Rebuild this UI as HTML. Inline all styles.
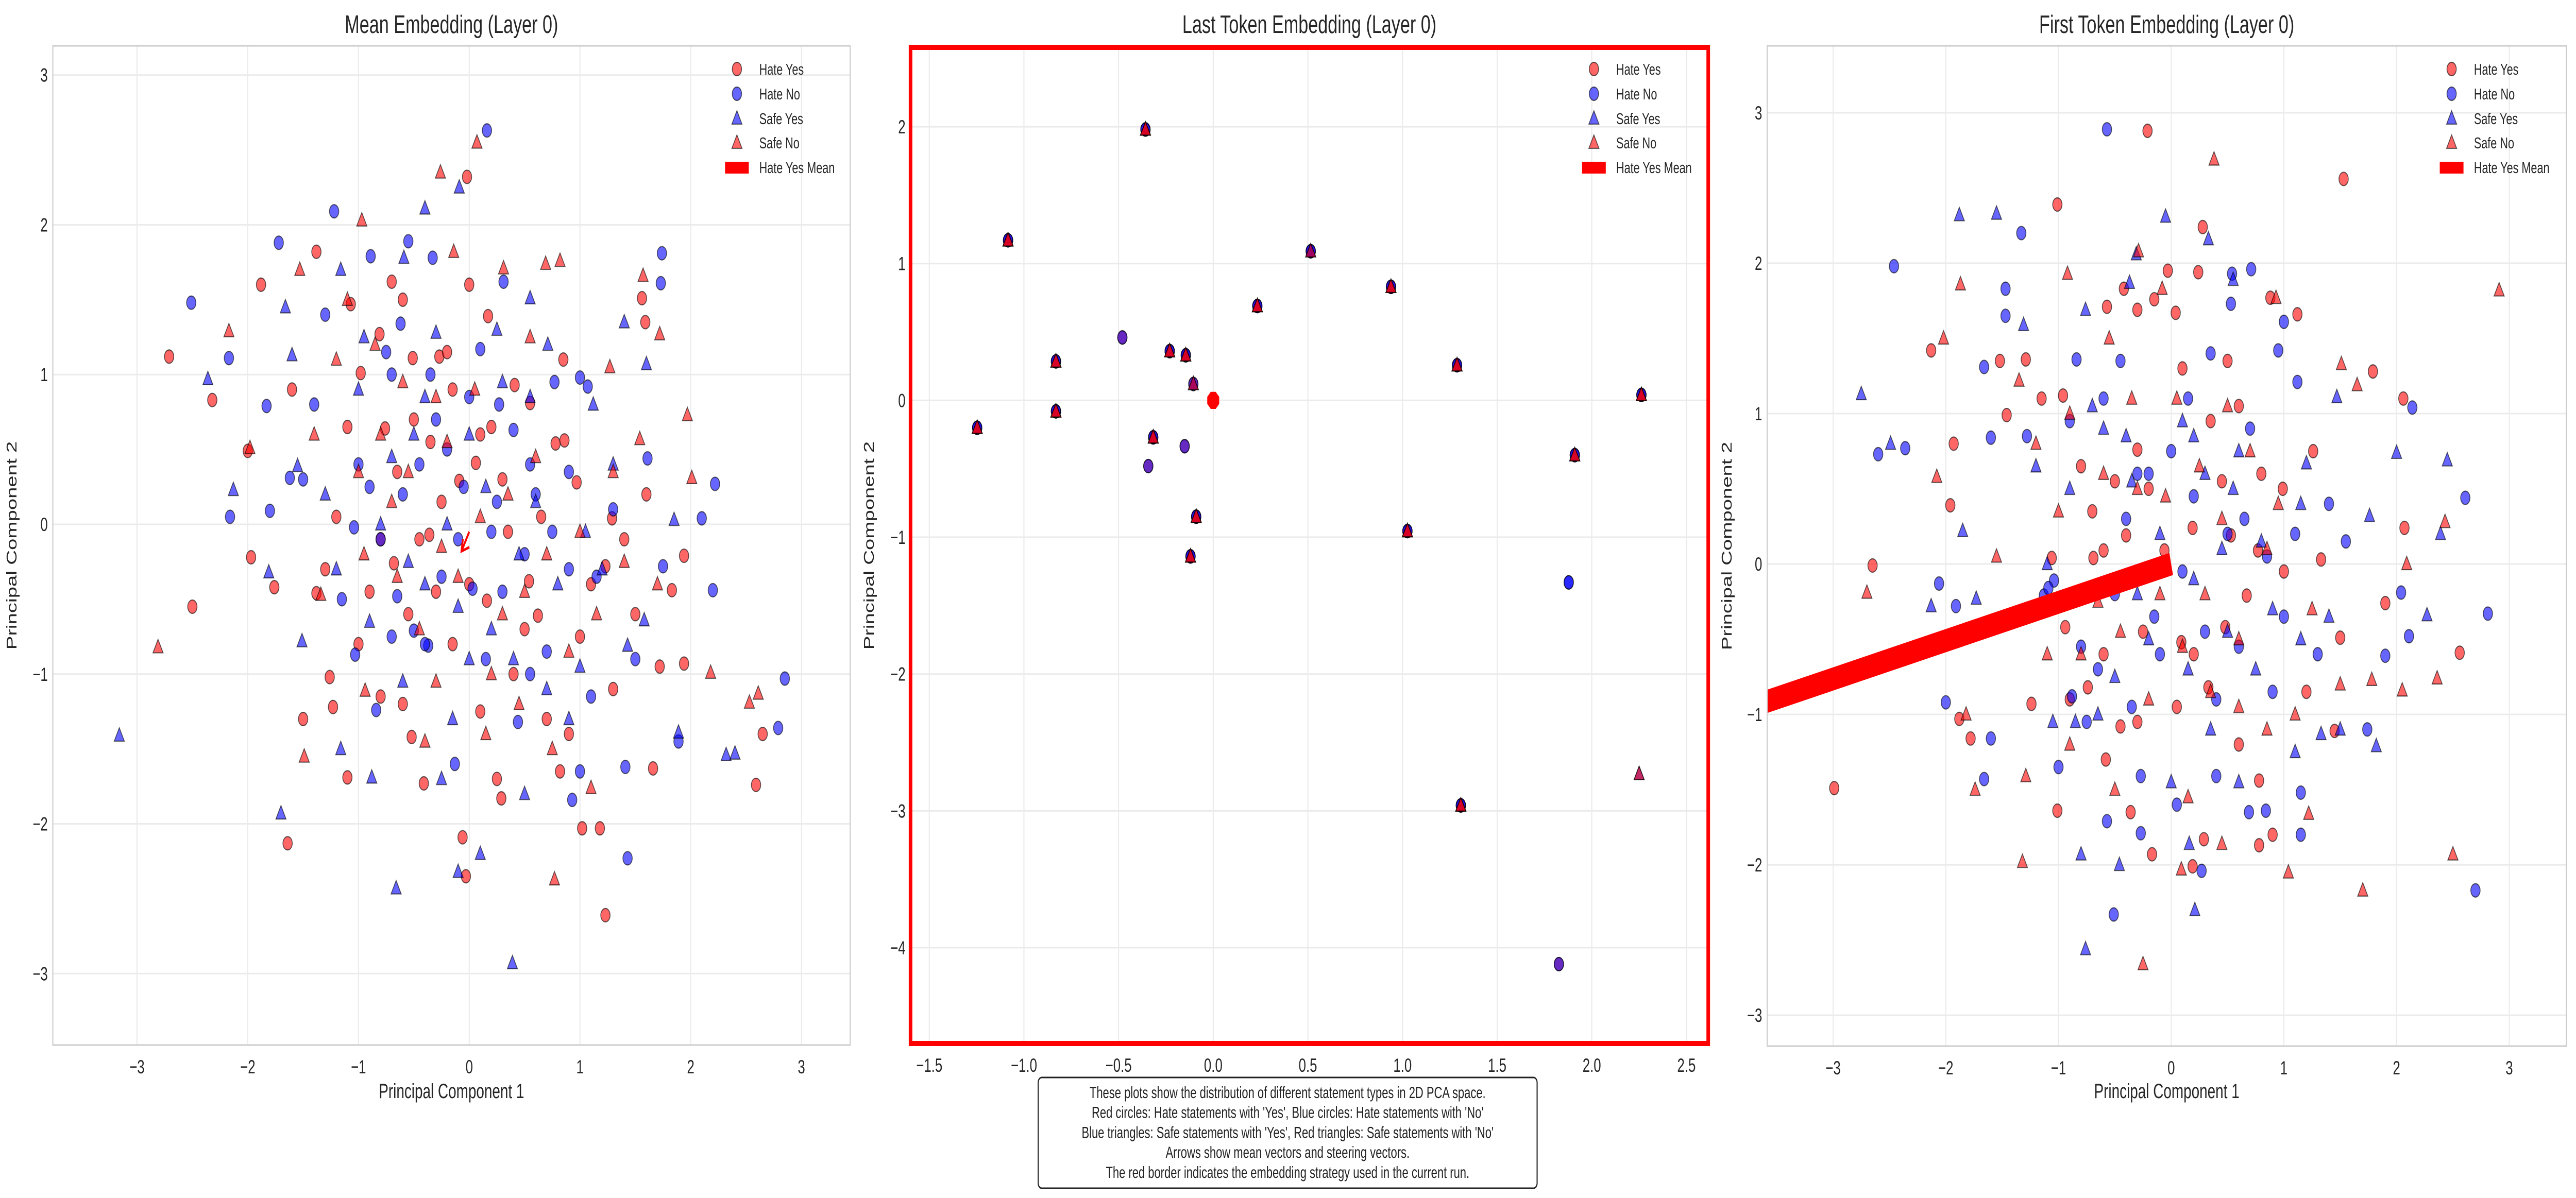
<!DOCTYPE html>
<html><head><meta charset="utf-8">
<style>
html,body{margin:0;padding:0;background:#fff;width:100%;height:100%;overflow:hidden;}
svg{display:block;font-family:"Liberation Sans",Arial,sans-serif;width:100vw;height:100vh;}
</style></head>
<body>
<svg id="fig" xmlns="http://www.w3.org/2000/svg" viewBox="0 0 7166 2326" preserveAspectRatio="none">
<rect x="0" y="0" width="7166" height="2326" fill="#fff"/>
</svg>
<script>
// ---------- data ----------
const xTicks1 = [-3,-2,-1,0,1,2,3];
const yTicks1 = [-3,-2,-1,0,1,2,3];
const xTicks2 = [-1.5,-1.0,-0.5,0.0,0.5,1.0,1.5,2.0,2.5];
const yTicks2 = [-4,-3,-2,-1,0,1,2];
const xTicks3 = [-3,-2,-1,0,1,2,3];
const yTicks3 = [-3,-2,-1,0,1,2,3];
const legendLabels = ["Hate Yes","Hate No","Safe Yes","Safe No","Hate Yes Mean"];

const p1HateYes = [[-2.71,1.12],[-2.32,0.83],[-2.50,-0.55],[-1.88,1.60],[-1.97,-0.22],[-2.00,0.49],[-1.76,-0.42],[-1.64,-2.13],[-1.38,1.82],[-1.38,-0.46],[-1.26,-1.02],[-1.23,-1.22],[-1.10,-1.69],[-1.07,1.47],[-0.98,1.01],[-0.81,1.27],[-0.70,1.62],[-0.68,-0.26],[-0.51,1.11],[-0.52,-1.42],[-0.41,-1.73],[-0.36,-0.07],[-0.27,1.12],[-0.15,0.90],[-0.06,-2.09],[-0.02,2.32],[-0.03,-2.35],[-0.09,0.29],[0.06,0.41],[0.17,1.39],[0.16,-0.51],[0.29,-1.83],[0.41,0.93],[0.55,0.81],[0.62,-0.61],[0.78,0.54],[0.86,0.56],[0.82,-1.65],[0.97,0.28],[1.02,-2.03],[1.18,-2.03],[1.23,-2.61],[1.29,0.04],[1.56,1.51],[1.59,1.35],[1.66,-1.63],[1.72,-0.95],[1.83,-0.44],[1.94,-0.21],[1.94,-0.93],[2.65,-1.40],[2.59,-1.74],[1.23,-0.28],[0.54,-0.38],[-0.76,0.64],[-0.5,0.7],[-0.3,-0.45],[0.1,0.6],[0.35,-0.05],[-0.6,-1.2],[0.7,-1.3],[1.4,-0.1],[-1.2,0.05],[0.0,-0.4],[0.5,-0.7],[-0.9,-0.45],[1.1,-0.4],[-0.2,1.15],[0.2,0.65],[-0.45,-0.1],[1.5,-0.6],[0.9,-1.4],[-1.3,-0.3],[-0.8,-1.15],[0.25,-1.7],[-1.6,0.9],[-1.1,0.65],[-0.65,0.35],[-0.25,0.15],[0.3,0.3],[0.65,0.05],[1.0,-0.75],[0.4,-1.0],[-0.15,-0.8],[-0.55,-0.6],[-1.0,-0.8],[-1.5,-1.3],[1.3,-1.1],[0.1,-1.25],[-0.35,0.55],[0.85,1.1],[1.6,0.2],[-0.8,-0.1],[0.0,1.6],[-0.6,1.5]];
const p1HateNo = [[-2.51,1.48],[-2.17,1.11],[-2.16,0.05],[-1.80,0.09],[-1.83,0.79],[-1.72,1.88],[-1.62,0.31],[-1.22,2.09],[-1.04,-0.02],[-0.89,1.79],[-0.55,1.89],[-0.33,1.78],[0.16,2.63],[-0.35,1.00],[-0.70,1.00],[-0.62,1.34],[-1.03,-0.87],[-0.84,-1.24],[-0.65,-0.48],[-0.50,-0.71],[-0.37,-0.81],[-0.13,-1.60],[0.03,-0.43],[0.27,0.80],[0.31,1.62],[0.77,0.95],[1.00,0.98],[1.07,0.92],[0.93,-1.84],[1.00,-1.65],[1.41,-1.62],[1.43,-2.23],[1.74,1.81],[1.73,1.61],[1.61,0.44],[1.75,-0.28],[1.89,-1.45],[2.10,0.04],[2.22,0.27],[2.79,-1.36],[2.85,-1.03],[2.20,-0.44],[0.44,-1.32],[-1.0,0.4],[-0.6,0.2],[-0.3,0.7],[0.1,1.17],[0.4,0.63],[0.6,0.2],[0.2,-0.05],[-0.1,-0.1],[0.5,-0.2],[0.9,-0.3],[1.3,0.1],[-0.8,-0.1],[-1.5,0.3],[0.7,-0.85],[0.3,-0.45],[-0.2,0.5],[1.1,-1.15],[-0.4,-0.8],[0.55,0.4],[-0.9,0.25],[-1.3,1.4],[-0.75,1.15],[-0.45,0.4],[0.0,0.85],[0.25,0.15],[0.75,-0.05],[1.15,-0.35],[0.15,-0.9],[-0.25,-0.35],[-0.7,-0.75],[-1.15,-0.5],[0.55,-1.0],[1.5,-0.9],[0.9,0.35],[-0.05,0.25],[-1.4,0.8]];
const p1SafeYes = [[-3.16,-1.41],[-2.36,0.97],[-2.13,0.23],[-1.81,-0.32],[-1.70,-1.93],[-1.66,1.45],[-1.51,-0.78],[-1.60,1.13],[-1.55,0.39],[-1.16,1.70],[-1.16,-1.50],[-0.88,-1.69],[-0.66,-2.43],[-0.59,1.78],[-0.40,2.11],[-0.09,2.25],[0.39,-2.93],[0.10,-2.20],[-0.10,-2.32],[1.40,1.35],[1.60,1.07],[1.89,-1.39],[2.32,-1.54],[2.40,-1.53],[1.85,0.03],[1.58,-0.64],[1.12,0.80],[0.71,1.20],[0.55,1.51],[1.43,-0.81],[-1.0,0.9],[-0.5,0.6],[-0.2,0.0],[0.0,0.6],[0.3,0.95],[0.6,0.15],[0.8,-0.4],[0.4,-0.9],[0.0,-0.9],[-0.4,-0.4],[-0.8,0.0],[-1.2,-0.3],[0.9,-1.3],[1.2,-0.3],[0.2,-0.7],[-0.3,1.28],[-0.6,-1.05],[0.5,-1.8],[-0.15,-1.3],[1.05,-0.05],[-1.3,0.2],[-0.95,1.25],[-0.7,0.45],[-0.4,0.85],[-0.1,-0.55],[0.15,0.25],[0.45,-0.2],[0.7,-1.1],[1.0,-0.95],[-0.55,-0.25],[-0.9,-0.65],[0.25,1.3],[1.3,0.4],[-0.25,-1.7],[0.55,0.85]];
const p1SafeNo = [[-2.81,-0.82],[-2.17,1.29],[-1.98,0.51],[-1.53,1.70],[-1.49,-1.55],[-1.34,-0.47],[-0.97,2.03],[-0.94,-1.11],[-0.26,2.35],[0.07,2.55],[0.31,1.71],[0.77,-2.37],[0.82,1.76],[1.10,-1.76],[1.27,1.05],[1.57,1.66],[1.72,1.27],[1.97,0.73],[2.18,-0.99],[2.53,-1.19],[2.61,-1.13],[2.01,0.31],[1.54,0.57],[0.69,1.74],[-0.14,1.82],[-1.2,1.1],[-0.8,0.6],[-0.55,0.35],[-0.3,0.85],[0.1,0.05],[0.35,0.2],[0.7,-0.2],[0.9,-0.85],[0.5,-0.45],[-0.1,-0.35],[-0.45,-0.7],[-0.95,-0.2],[-1.4,0.6],[0.2,-1.0],[-0.3,-1.05],[0.75,-1.5],[1.3,0.35],[1.4,-0.25],[-0.7,0.15],[0.55,1.25],[-1.1,1.5],[-0.6,0.95],[-0.2,0.55],[0.05,0.9],[0.3,-0.6],[0.6,0.45],[1.0,-0.05],[1.15,-0.6],[-0.25,-0.15],[-0.65,-0.35],[-1.0,0.35],[-0.4,-1.45],[0.15,-1.4],[0.45,-1.2],[-0.85,1.2],[1.7,-0.4]];
const p1Arrow = [[0.0,-0.05],[-0.07,-0.18]];

const p2Cluster = [[-1.247,-0.20],[-1.084,1.17],[-0.831,0.285],[-0.831,-0.08],[-0.358,1.98],[-0.23,0.36],[-0.145,0.33],[-0.317,-0.27],[-0.09,-0.85],[-0.12,-1.14],[0.233,0.69],[0.939,0.83],[1.026,-0.955],[1.288,0.257],[1.308,-2.96],[1.91,-0.40],[2.262,0.04]];
const p2HateYes = [[-0.48,0.46],[-0.343,-0.48],[-0.151,-0.335],[1.826,-4.12],[-0.105,0.12],[0.515,1.09]];
const p2HateNo = [[-0.48,0.46],[-0.343,-0.48],[-0.151,-0.335],[1.826,-4.12],[1.878,-1.33],[1.878,-1.33],[-0.105,0.12],[0.515,1.09],[0.515,1.09]];
const p2SafeYes = [[2.25,-2.73],[-0.105,0.12],[0.515,1.09]];
const p2SafeNo = [[2.25,-2.73],[-0.105,0.12],[0.515,1.09]];
const p2Mean = [0,0];

const p3HateYes = [[-2.99,-1.49],[-2.65,-0.01],[-2.13,1.42],[-1.96,0.39],[-1.93,0.80],[-1.88,-1.03],[-1.78,-1.16],[-1.52,1.35],[-1.46,0.99],[-1.29,1.36],[-1.01,2.39],[-1.01,-1.64],[-1.24,-0.93],[-0.96,1.12],[-0.57,1.71],[-0.42,1.83],[-0.30,1.69],[-0.21,2.88],[-0.15,1.76],[-0.03,1.95],[0.04,1.67],[0.24,1.94],[0.28,2.24],[0.50,1.35],[0.88,1.77],[1.12,1.66],[1.53,2.56],[1.79,1.28],[2.06,1.10],[2.07,0.24],[1.90,-0.26],[2.56,-0.59],[1.50,-0.49],[1.45,-1.11],[0.78,-1.44],[0.90,-1.80],[0.78,-1.87],[0.29,-1.83],[0.19,-2.01],[-0.17,-1.93],[-0.36,-1.65],[-0.58,-1.30],[-0.74,-0.82],[-0.94,-0.42],[-1.06,0.04],[-0.69,0.04],[-0.60,0.09],[-0.40,0.19],[-0.30,0.76],[-0.06,0.09],[0.19,0.24],[0.48,-0.42],[0.67,-0.21],[0.77,0.09],[0.99,0.50],[1.26,0.75],[1.33,0.03],[0.53,0.19],[0.33,-0.82],[0.09,-0.52],[-0.45,-1.08],[-1.15,1.1],[-0.8,0.65],[-0.5,0.55],[-0.2,0.5],[0.1,1.3],[0.35,0.95],[0.6,1.05],[0.8,0.6],[1.0,-0.05],[0.2,-0.6],[-0.25,-0.45],[-0.6,-0.6],[-0.9,-0.9],[-0.3,-1.05],[0.6,-1.2],[1.2,-0.85],[0.45,0.55],[-0.7,0.35],[0.05,-0.95]];
const p3HateNo = [[-2.46,1.98],[-2.60,0.73],[-2.36,0.77],[-2.00,-0.92],[-2.06,-0.13],[-1.91,-0.28],[-1.66,1.31],[-1.60,0.84],[-1.47,1.83],[-1.47,1.65],[-1.33,2.20],[-1.28,0.85],[-1.66,-1.43],[-1.60,-1.16],[-1.00,-1.35],[-0.88,-0.88],[-0.84,1.36],[-0.57,2.89],[-0.57,-1.71],[-0.51,-2.33],[-0.27,-1.79],[-0.27,-1.41],[0.27,-2.04],[0.53,1.73],[0.71,1.96],[0.54,1.93],[1.00,1.61],[0.95,1.42],[1.12,1.21],[2.14,1.04],[2.61,0.44],[2.81,-0.33],[2.70,-2.17],[2.11,-0.48],[2.04,-0.19],[1.74,-1.10],[1.90,-0.61],[1.15,-1.80],[1.15,-1.52],[0.84,-1.64],[0.69,-1.65],[0.40,-1.41],[0.05,-1.60],[-1.13,-0.21],[-1.04,-0.11],[-1.09,-0.16],[-0.4,0.3],[-0.2,0.6],[0.0,0.75],[0.2,0.45],[0.5,0.2],[0.7,0.9],[0.3,-0.45],[0.1,-0.05],[-0.15,-0.35],[-0.5,-0.2],[-0.8,-0.55],[1.1,0.2],[1.4,0.4],[1.55,0.15],[0.6,-0.55],[-0.3,0.6],[-0.1,-0.6],[-0.45,1.35],[0.15,1.1],[0.85,0.05],[-0.65,-0.7],[1.0,-0.35],[-0.9,0.95],[-0.6,1.1],[0.35,1.4],[0.65,0.3],[0.9,-0.85],[0.4,-0.9],[-0.35,-0.95],[-0.75,-1.05],[1.3,-0.6]];
const p3SafeYes = [[-2.75,1.13],[-2.49,0.80],[-1.88,2.32],[-1.55,2.33],[-1.31,1.59],[-2.13,-0.28],[-1.85,0.22],[-1.73,-0.23],[-0.76,1.69],[-0.31,2.06],[-0.05,2.31],[0.33,2.16],[-0.76,-2.56],[-0.80,-1.93],[-0.46,-2.00],[0.21,-2.30],[0.16,-1.86],[2.00,0.74],[2.45,0.69],[2.39,0.20],[2.27,-0.34],[1.82,-1.21],[1.50,-1.10],[1.33,-1.13],[1.76,0.32],[1.47,1.11],[1.20,0.67],[0.55,1.89],[-0.37,1.87],[-1.1,0.0],[-0.9,0.5],[-0.6,0.9],[-0.35,0.55],[-0.1,0.2],[0.1,0.95],[0.3,0.6],[0.55,0.5],[0.8,0.15],[0.5,-0.45],[0.2,-0.1],[-0.2,-0.5],[-0.5,-0.75],[-0.85,-1.05],[0.0,-1.45],[0.75,-0.7],[1.15,-0.5],[-1.05,-1.05],[0.35,-1.1],[1.4,-0.35],[-1.2,0.65],[-0.7,1.05],[-0.4,0.85],[0.2,0.85],[0.6,0.75],[0.45,0.1],[0.9,-0.3],[0.15,-0.7],[-0.3,-0.2],[-0.65,-1.0],[0.6,-1.45],[1.1,-1.25],[1.15,0.4]];
const p3SafeNo = [[-2.70,-0.19],[-2.08,0.58],[-2.02,1.50],[-1.87,1.86],[-1.82,-1.00],[-1.74,-1.50],[-1.32,-1.98],[-1.29,-1.41],[-1.35,1.22],[-0.92,1.93],[-0.29,2.08],[-0.08,1.83],[0.38,2.69],[-0.25,-2.66],[1.04,-2.05],[1.70,-2.17],[2.50,-1.93],[2.91,1.82],[2.43,0.28],[2.36,-0.76],[2.05,-0.84],[2.09,0.00],[1.78,-0.77],[1.51,1.33],[1.65,1.19],[0.93,1.77],[0.45,-1.86],[1.22,-1.66],[0.09,-2.03],[-1.2,0.8],[-0.9,1.0],[-0.55,1.5],[-0.3,0.5],[-0.05,0.45],[0.25,0.65],[0.45,0.3],[0.7,0.75],[0.95,0.4],[0.6,-0.5],[0.3,-0.2],[-0.1,-0.2],[-0.45,-0.45],[-0.8,-0.6],[-1.1,-0.6],[-0.5,-1.5],[0.15,-1.55],[0.6,-0.95],[1.1,-1.0],[0.1,-0.55],[-1.55,0.05],[-1.0,0.35],[-0.6,0.6],[-0.35,1.1],[0.05,1.1],[0.5,1.05],[0.85,0.1],[1.25,-0.3],[0.35,-0.85],[-0.2,-0.9],[-0.65,-0.25],[-0.9,-1.2],[0.85,-1.1],[1.5,-0.8]];
const p3Arrow = [[0,0],[-4.2,-1.07]];

// ---------- rendering ----------
const NS = "http://www.w3.org/2000/svg";
const svg = document.getElementById("fig");
function mk(tag, attrs, parent){
  const e = document.createElementNS(NS, tag);
  for (const k in attrs) e.setAttribute(k, attrs[k]);
  (parent || svg).appendChild(e);
  return e;
}
const TXT = "#262626";
const RED = "rgba(255,0,0,0.6)", BLUE = "rgba(0,0,255,0.6)";
const EDGE = "rgba(0,0,0,0.6)";

function panel(id, box, xlim, ylim, xt, yt, xfmt, title, ylabX, legX){
  const g = mk("g", {});
  
  
  const sx = v => box.x + (v - xlim[0]) / (xlim[1] - xlim[0]) * box.w;
  const sy = v => box.y + (ylim[1] - v) / (ylim[1] - ylim[0]) * box.h;
  const cp = mk("clipPath", {id: id + "-clip"}, g);
  mk("rect", {x: box.x, y: box.y, width: box.w, height: box.h}, cp);
  xt.forEach(v => {
    const l = mk("line", {x1: sx(v), x2: sx(v), y1: box.y, y2: box.y + box.h, stroke: "#ebebeb", "stroke-width": 3}, g);
    
    
    const t = mk("text", {x: sx(v), y: box.y + box.h + 55, "text-anchor": "middle", "font-size": 37, fill: TXT}, g);
    t.textContent = xfmt(v);
    
    
  });
  yt.forEach(v => {
    const l = mk("line", {x1: box.x, x2: box.x + box.w, y1: sy(v), y2: sy(v), stroke: "#ebebeb", "stroke-width": 3}, g);
    
    
    const t = mk("text", {x: box.x - 14, y: sy(v) + 13, "text-anchor": "end", "font-size": 37, fill: TXT}, g);
    t.textContent = String(v).replace("-", "\u2212");
    
    
  });
  const tt = mk("text", {x: box.x + box.w / 2, y: 64, "text-anchor": "middle", "font-size": 49, fill: TXT}, g);
  tt.textContent = title;
  
  
  const xl = mk("text", {x: box.x + box.w / 2, y: 2132, "text-anchor": "middle", "font-size": 40, fill: TXT}, g);
  xl.textContent = "Principal Component 1";
  
  
  const cy = box.y + box.h / 2;
  const yl = mk("text", {x: ylabX, y: cy, "text-anchor": "middle", "font-size": 40, fill: TXT, transform: `rotate(-90 ${ylabX} ${cy})`}, g);
  yl.textContent = "Principal Component 2";
  
  
  const plot = mk("g", {"clip-path": `url(#${id}-clip)`}, g);
  return {g, plot, sx, sy, box, legX};
}
function circles(P, data, fill, name){
  data.forEach(d => {
    const c = mk("circle", {cx: P.sx(d[0]), cy: P.sy(d[1]), r: 13, fill: fill, stroke: EDGE, "stroke-width": 2.2}, P.plot);
    
    
  });
}
function tris(P, data, fill, name){
  data.forEach(d => {
    const x = P.sx(d[0]), y = P.sy(d[1]);
    const t = mk("polygon", {points: `${x},${y-15} ${x-14},${y+11} ${x+14},${y+11}`, fill: fill, stroke: EDGE, "stroke-width": 2.2}, P.plot);
    
    
  });
}
function spines(P, color, w){
  const b = P.box;
  const r = mk("rect", {x: b.x, y: b.y, width: b.w, height: b.h, fill: "none", stroke: color, "stroke-width": w}, P.g);
  
  
}
function legend(P){
  const x = P.legX, rows = [134, 182, 230, 277, 325];
  const lg = mk("g", {}, P.g);
  
  
  legendLabels.forEach((lab, i) => {
    const y = rows[i];
    let m;
    if (i < 2) m = mk("circle", {cx: x, cy: y, r: 13, fill: i === 0 ? RED : BLUE, stroke: EDGE, "stroke-width": 2.2}, lg);
    else if (i < 4) m = mk("polygon", {points: `${x},${y-15} ${x-14},${y+11} ${x+14},${y+11}`, fill: i === 2 ? BLUE : RED, stroke: EDGE, "stroke-width": 2.2}, lg);
    else m = mk("rect", {x: x - 33, y: y - 11, width: 66, height: 23, fill: "#ff0000"}, lg);
    
    
    const t = mk("text", {x: x + 62, y: y + 11, "font-size": 31, fill: TXT}, lg);
    t.textContent = lab;
    
    
  });
}
const intFmt = v => String(v).replace("-", "\u2212");
const decFmt = v => v.toFixed(1).replace("-", "\u2212");

// Panel 1
const P1 = panel("mean", {x:147, y:89, w:2218, h:1940}, [-3.76,3.44], [-3.477,3.195], xTicks1, yTicks1, intFmt, "Mean Embedding (Layer 0)", 46, 2050);
circles(P1, p1HateYes, RED, "hate-yes-point");
circles(P1, p1HateNo, BLUE, "hate-no-point");
tris(P1, p1SafeYes, BLUE, "safe-yes-point");
tris(P1, p1SafeNo, RED, "safe-no-point");
(function(){
  const a = p1Arrow, x1 = P1.sx(a[0][0]), y1 = P1.sy(a[0][1]), x2 = P1.sx(a[1][0]), y2 = P1.sy(a[1][1]);
  const ar = mk("g", {}, P1.plot);
  
  
  mk("line", {x1:x1, y1:y1, x2:x2, y2:y2, stroke:"#ff0000", "stroke-width":5}, ar);
  mk("polyline", {points:`${x2+22},${y2-8} ${x2},${y2} ${x2+4},${y2-24}`, fill:"none", stroke:"#ff0000", "stroke-width":5}, ar);
})();
spines(P1, "#cccccc", 3);
legend(P1);

// Panel 2
const P2 = panel("last", {x:2533, y:92, w:2219, h:1934}, [-1.599,2.615], [-4.70,2.58], xTicks2, yTicks2, decFmt, "Last Token Embedding (Layer 0)", 2431, 4434);
circles(P2, p2Cluster, RED, "hate-yes-point");
circles(P2, p2HateYes, RED, "hate-yes-point");
circles(P2, p2Cluster, BLUE, "hate-no-point");
circles(P2, p2Cluster, BLUE, "hate-no-point");
circles(P2, p2HateNo, BLUE, "hate-no-point");
tris(P2, p2Cluster, BLUE, "safe-yes-point");
tris(P2, p2SafeYes, BLUE, "safe-yes-point");
tris(P2, p2Cluster, RED, "safe-no-point");
tris(P2, p2Cluster, RED, "safe-no-point");
tris(P2, p2SafeNo, RED, "safe-no-point");
(function(){
  const cx = P2.sx(p2Mean[0]), cy = P2.sy(p2Mean[1]), r = 18, pts = [];
  for (let i = 0; i < 8; i++){ const a = Math.PI/8 + i*Math.PI/4; pts.push((cx + r*Math.cos(a)) + "," + (cy + r*Math.sin(a))); }
  const o = mk("polygon", {points: pts.join(" "), fill: "#ff0000"}, P2.plot);
  
  
})();
spines(P2, "#ff0000", 10);
legend(P2);

// Panel 3
const P3 = panel("first", {x:4916, y:89, w:2223, h:1942}, [-3.585,3.506], [-3.205,3.445], xTicks3, yTicks3, intFmt, "First Token Embedding (Layer 0)", 4817, 6820);
circles(P3, p3HateYes, RED, "hate-yes-point");
circles(P3, p3HateNo, BLUE, "hate-no-point");
tris(P3, p3SafeYes, BLUE, "safe-yes-point");
tris(P3, p3SafeNo, RED, "safe-no-point");
(function(){
  const a = p3Arrow;
  const l = mk("line", {x1:P3.sx(a[0][0]), y1:P3.sy(a[0][1]), x2:P3.sx(a[1][0]), y2:P3.sy(a[1][1]), stroke:"#ff0000", "stroke-width":44}, P3.plot);
  
  
})();
spines(P3, "#cccccc", 3);
legend(P3);

// Caption box
(function(){
  const g = mk("g", {});
  
  
  mk("rect", {x:2888, y:2092, width:1388, height:215, rx:10, fill:"#fff", stroke:"#222", "stroke-width":3}, g);
  const lines = ["These plots show the distribution of different statement types in 2D PCA space.",
    "Red circles: Hate statements with 'Yes', Blue circles: Hate statements with 'No'",
    "Blue triangles: Safe statements with 'Yes', Red triangles: Safe statements with 'No'",
    "Arrows show mean vectors and steering vectors.",
    "The red border indicates the embedding strategy used in the current run."];
  lines.forEach((s, i) => {
    const t = mk("text", {x:3582, y:2132 + i*38.7, "text-anchor":"middle", "font-size":31.5, fill:"#222"}, g);
    t.textContent = s;
    
    
  });
})();
</script>
</body></html>
